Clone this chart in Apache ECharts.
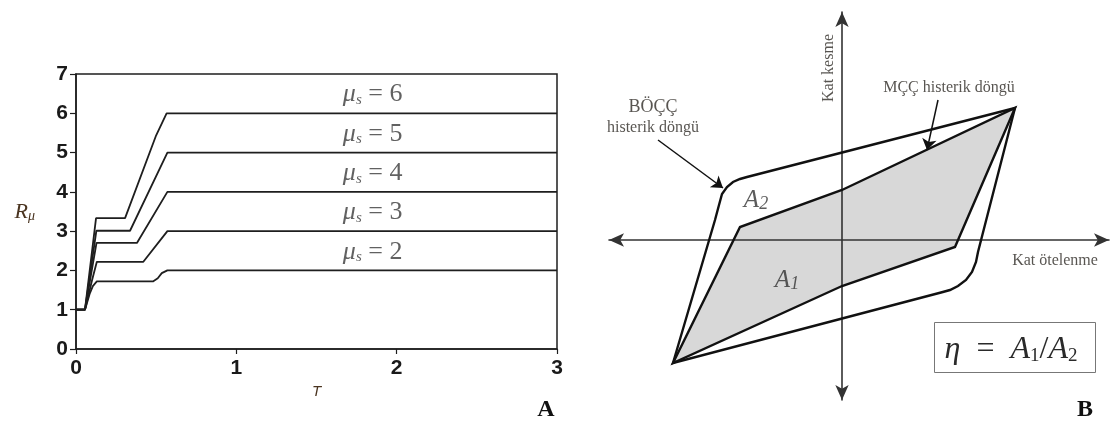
<!DOCTYPE html>
<html>
<head>
<meta charset="utf-8">
<script src="https://cdn.jsdelivr.net/npm/echarts@6/dist/echarts.min.js"></script>
<style>
html,body{margin:0;padding:0;background:#fff}
#chart{width:1120px;height:435px}
</style>
</head>
<body>
<div id="chart"></div>
<script>
// Panel A: strength reduction factor R_mu against period T
const periodTicks = [0, 1, 2, 3];
const ductilityLevels = [2, 3, 4, 5, 6];
const curveMu2 = [[0, 1], [0.056, 1], [0.085, 1.4], [0.105, 1.6], [0.13, 1.72], [0.48, 1.72], [0.51, 1.8], [0.535, 1.93], [0.57, 2.0], [3, 2.0]];
const curveMu3 = [[0, 1], [0.056, 1], [0.1, 1.75], [0.13, 2.22], [0.42, 2.22], [0.57, 3.0], [3, 3.0]];
const curveMu4 = [[0, 1], [0.056, 1], [0.128, 2.7], [0.38, 2.7], [0.57, 4.0], [3, 4.0]];
const curveMu5 = [[0, 1], [0.056, 1], [0.127, 3.01], [0.337, 3.01], [0.57, 5.0], [3, 5.0]];
const curveMu6 = [[0, 1], [0.056, 1], [0.125, 3.33], [0.306, 3.33], [0.5, 5.44], [0.565, 6.0], [3, 6.0]];
const ductilityCurves = [curveMu2, curveMu3, curveMu4, curveMu5, curveMu6];

// Panel B: story shear vs. story drift hysteresis loops (schematic units)
const boccLoop = [[-16.9, -12.3], [-12.7, 2.0], [-12.3, 3.5], [-12.0, 4.6], [-11.5, 5.3], [-10.9, 5.8], [-10.2, 6.1], [-9.5, 6.3],
                  [17.3, 13.2], [13.6, -1.2], [13.4, -2.2], [13.0, -3.2], [12.4, -4.0], [11.6, -4.6], [10.8, -5.0], [9.9, -5.25]];
const mccLoop = [[-16.9, -12.3], [-10.2, 1.3], [0, 5.0], [17.3, 13.2], [11.3, -0.7], [0, -4.6]];

const ink = '#1e1e1e';
const textInk = '#2e2a26';
const serif = '"Liberation Serif", "DejaVu Serif", serif';
const sans = '"Liberation Sans", Arial, sans-serif';

const chart = echarts.init(document.getElementById('chart'), null, {renderer: 'canvas'});

function loopItem(points, fill, stroke) {
  return function (params, api) {
    const pts = points.map(p => api.coord(p));
    return {
      type: 'polygon',
      shape: {points: pts},
      style: {fill: fill, stroke: stroke, lineWidth: 2.4, lineJoin: 'miter'}
    };
  };
}

const curveSeries = ductilityCurves.map((c, i) => ({
  type: 'line',
  name: 'mu' + ductilityLevels[i],
  xAxisIndex: 0, yAxisIndex: 0,
  data: c,
  showSymbol: false,
  symbol: 'none',
  lineStyle: {color: ink, width: 1.8},
  silent: true
}));

const muLabelSeries = {
  type: 'scatter',
  xAxisIndex: 0, yAxisIndex: 0,
  symbolSize: 0,
  silent: true,
  data: ductilityLevels.map(m => ({
    value: [1.85, m + 0.5],
    label: {
      show: true, position: 'inside',
      formatter: '{mu|μ}{s|s}{eq| = ' + m + '}',
      rich: {
        mu: {fontFamily: serif, fontStyle: 'italic', fontSize: 26, color: '#3a3a3a', lineHeight: 28, verticalAlign: 'bottom'},
        s: {fontFamily: serif, fontStyle: 'italic', fontSize: 15, color: '#3a3a3a', lineHeight: 16, verticalAlign: 'bottom'},
        eq: {fontFamily: serif, fontSize: 26, color: '#3a3a3a', lineHeight: 28, verticalAlign: 'bottom'}
      }
    }
  }))
};

const textLabels = [
  {value: [-18.9, 12.3], label: {formatter: '{a|BÖÇÇ}\n{b|histerik döngü}',
    rich: {a: {fontFamily: serif, fontSize: 18, lineHeight: 22, color: textInk, align: 'center'},
           b: {fontFamily: serif, fontSize: 16, lineHeight: 20, color: textInk, align: 'center'}}}},
  {value: [10.7, 15.2], label: {formatter: 'MÇÇ histerik döngü', fontFamily: serif, fontSize: 16, color: textInk}},
  {value: [-1.3, 17.2], label: {formatter: 'Kat kesme', fontFamily: serif, fontSize: 16, color: textInk, rotate: 90}},
  {value: [21.3, -2.1], label: {formatter: 'Kat ötelenme', fontFamily: serif, fontSize: 16, color: textInk}},
  {value: [-8.6, 4.0], label: {formatter: '{a|A}{s|2}',
    rich: {a: {fontFamily: serif, fontStyle: 'italic', fontSize: 25, color: '#333', lineHeight: 26, verticalAlign: 'bottom'},
           s: {fontFamily: serif, fontStyle: 'italic', fontSize: 18, color: '#333', lineHeight: 14, verticalAlign: 'bottom'}}}},
  {value: [-5.5, -4.0], label: {formatter: '{a|A}{s|1}',
    rich: {a: {fontFamily: serif, fontStyle: 'italic', fontSize: 25, color: '#333', lineHeight: 26, verticalAlign: 'bottom'},
           s: {fontFamily: serif, fontStyle: 'italic', fontSize: 18, color: '#333', lineHeight: 14, verticalAlign: 'bottom'}}}}
].map(d => ({value: d.value, label: Object.assign({show: true, position: 'inside'}, d.label)}));

const option = {
  animation: false,
  backgroundColor: '#fff',
  grid: [
    {left: 76, top: 74, width: 481, height: 275, show: true, borderColor: ink, borderWidth: 1.5, backgroundColor: 'transparent'},
    {left: 609, top: 12, width: 500, height: 388}
  ],
  xAxis: [
    {
      gridIndex: 0, type: 'value', min: 0, max: 3, interval: 1,
      name: 'T', nameLocation: 'middle', nameGap: 25,
      nameTextStyle: {fontFamily: sans, fontStyle: 'italic', fontSize: 15, color: '#4a3420'},
      axisLine: {lineStyle: {color: ink, width: 1.5}},
      axisTick: {length: 5, lineStyle: {color: ink, width: 1.2}},
      axisLabel: {fontFamily: sans, fontSize: 21, fontWeight: 'bold', color: '#1a1a1a', margin: 9,
        formatter: v => periodTicks.includes(v) ? String(v) : ''},
      splitLine: {show: false}
    },
    {
      gridIndex: 1, type: 'value', min: -23.3, max: 26.7,
      axisLine: {onZero: true, symbol: ['arrow', 'arrow'], symbolSize: [10, 15], lineStyle: {color: '#333', width: 1.6}},
      axisTick: {show: false}, axisLabel: {show: false}, splitLine: {show: false}
    }
  ],
  yAxis: [
    {
      gridIndex: 0, type: 'value', min: 0, max: 7, interval: 1,
      name: '{r|R}{m|μ}', nameLocation: 'middle', nameGap: 41, nameRotate: 0,
      nameTextStyle: {rich: {
        r: {fontFamily: serif, fontStyle: 'italic', fontSize: 22, color: '#4a3420', lineHeight: 24, verticalAlign: 'bottom'},
        m: {fontFamily: serif, fontStyle: 'italic', fontSize: 14, color: '#4a3420', lineHeight: 13, verticalAlign: 'bottom'}
      }},
      axisLine: {lineStyle: {color: ink, width: 1.5}},
      axisTick: {length: 6, lineStyle: {color: ink, width: 1.2}},
      axisLabel: {fontFamily: sans, fontSize: 21, fontWeight: 'bold', color: '#1a1a1a', margin: 8},
      splitLine: {show: false}
    },
    {
      gridIndex: 1, type: 'value', min: -16, max: 22.8,
      axisLine: {onZero: true, symbol: ['arrow', 'arrow'], symbolSize: [10, 15], lineStyle: {color: '#333', width: 1.6}},
      axisTick: {show: false}, axisLabel: {show: false}, splitLine: {show: false}
    }
  ],
  series: [
    ...curveSeries,
    muLabelSeries,
    {
      // shaded area of the MCC loop, kept under the axes
      type: 'custom', xAxisIndex: 1, yAxisIndex: 1, z: -1, silent: true,
      data: [[0, 0]],
      renderItem: loopItem(mccLoop, '#d8d8d8', 'none')
    },
    {
      type: 'custom', xAxisIndex: 1, yAxisIndex: 1, silent: true,
      data: [[0, 0]],
      renderItem: loopItem(boccLoop, 'none', '#111')
    },
    {
      type: 'custom', xAxisIndex: 1, yAxisIndex: 1, silent: true,
      data: [[0, 0]],
      renderItem: loopItem(mccLoop, 'none', '#111')
    },
    {
      type: 'lines', coordinateSystem: 'cartesian2d', xAxisIndex: 1, yAxisIndex: 1, silent: true,
      symbol: ['none', 'arrow'], symbolSize: 11,
      lineStyle: {color: '#111', width: 1.5, opacity: 1},
      data: [
        {coords: [[-18.4, 10.0], [-11.9, 5.2]]},
        {coords: [[9.6, 14.0], [8.5, 9.0]]}
      ]
    },
    {
      type: 'scatter', xAxisIndex: 1, yAxisIndex: 1, symbolSize: 0, silent: true,
      data: textLabels
    }
  ],
  graphic: [
    {type: 'rect', shape: {x: 934.5, y: 322.5, width: 161, height: 50}, style: {fill: '#fff', stroke: '#777', lineWidth: 1}},
    {type: 'text', x: 1011, y: 348, style: {
      text: '{e|η}{q|  =  }{a|A}{s|1}{q|/}{a|A}{s|2}',
      align: 'center', verticalAlign: 'middle',
      rich: {
        e: {fontFamily: serif, fontStyle: 'italic', fontSize: 32, fill: '#2a2a2a', lineHeight: 36, verticalAlign: 'bottom'},
        q: {fontFamily: serif, fontSize: 32, fill: '#2a2a2a', lineHeight: 36, verticalAlign: 'bottom'},
        a: {fontFamily: serif, fontStyle: 'italic', fontSize: 32, fill: '#2a2a2a', lineHeight: 36, verticalAlign: 'bottom'},
        s: {fontFamily: serif, fontSize: 19, fill: '#2a2a2a', lineHeight: 17, verticalAlign: 'bottom'}
      }
    }},
    {type: 'text', x: 546, y: 410, style: {text: 'A', fontFamily: serif, fontWeight: 'bold', fontSize: 24, fill: '#111', align: 'center', verticalAlign: 'middle'}},
    {type: 'text', x: 1085, y: 410, style: {text: 'B', fontFamily: serif, fontWeight: 'bold', fontSize: 24, fill: '#111', align: 'center', verticalAlign: 'middle'}}
  ]
};

chart.setOption(option);
</script>
</body>
</html>
